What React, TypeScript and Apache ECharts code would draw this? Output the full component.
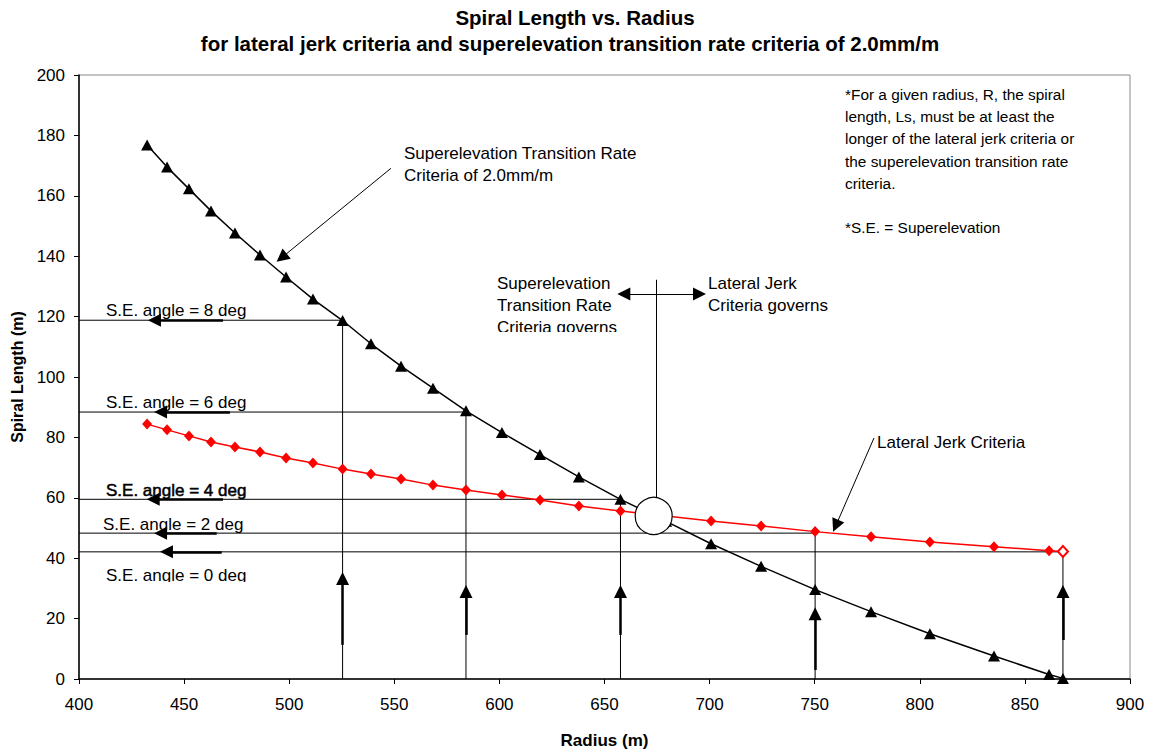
import React, { useEffect, useRef } from "react";
import * as echarts from "echarts";

// ---- data ----
const radius = [432.4, 441.9, 452.3, 462.8, 474.2, 486.1, 498.5, 511.3, 525.4, 538.9, 553.2, 568.4, 584.1, 601.2, 619.3, 637.8, 657.6, 679.3, 700.7, 724.5, 750.2, 776.8, 804.8, 835.3, 861.5, 868.1];
const seTransitionLs = [176.8, 169.5, 162.3, 155.0, 147.7, 140.4, 133.1, 125.8, 118.7, 111.0, 103.6, 96.3, 88.8, 81.6, 74.3, 66.9, 59.5, 52.2, 44.8, 37.3, 29.6, 22.3, 15.0, 7.6, 1.5, 0.2];
const lateralJerkLs = [84.4, 82.5, 80.5, 78.5, 76.8, 75.2, 73.2, 71.5, 69.5, 67.9, 66.2, 64.2, 62.6, 60.9, 59.3, 57.3, 55.6, 54.0, 52.3, 50.7, 48.8, 47.1, 45.4, 43.8, 42.5, 42.2];

// S.E. angle guides: angle, spiral length level, radius
const seAngles = ["8", "6", "4", "2", "0"];
const seLevels = [118.8, 88.4, 59.5, 48.3, 42.1];
const seRadii = [525.4, 584.1, 657.6, 750.2, 868.1];
// horizontal arrows (arrowhead centre x, tail x) on each level
const hArrowHead = [435.9, 438.8, 435.3, 438.8, 441.6];
const hArrowTail = [468.5, 471.8, 468.5, 465.5, 467.9];
// vertical arrows (arrowhead centre y, tail y) on each radius
const vArrowHead = [33.3, 29.0, 29.0, 21.6, 29.0];
const vArrowTail = [11.3, 14.6, 14.6, 3.0, 12.9];

// crossover marker
const crossover = [673.4, 54.0];
const divideX = 674.4;
const divideTop = 132.2;
const divideArrowY = 127.5;
const divideArrowL = 659.2;
const divideArrowR = 695.2;

const xMin = 400, xMax = 900, xStep = 50;
const yMin = 0, yMax = 200, yStep = 20;

const FONT = '"Liberation Sans", Arial, sans-serif';

export default function App() {
  const ref = useRef<HTMLDivElement>(null);
  useEffect(() => {
    if (!ref.current) return;
    const chart = echarts.init(ref.current, undefined, { renderer: "svg" });

    const connectors = seLevels.map((L, i) => ({
      coords: [[xMin, L], [seRadii[i], L], [seRadii[i], 0]],
    }));
    const arrows: any[] = [];
    seLevels.forEach((L, i) => {
      arrows.push({ coords: [[hArrowTail[i], L], [hArrowHead[i], L]], lineStyle: { width: 2.5 } });
      arrows.push({ coords: [[seRadii[i], vArrowTail[i]], [seRadii[i], vArrowHead[i]]], lineStyle: { width: 2.5 } });
    });
    arrows.push({ coords: [[548.4, 169.1], [496.4, 139.5]], lineStyle: { width: 1 } });
    arrows.push({ coords: [[778.2, 79.8], [760.0, 50.7]], lineStyle: { width: 1 } });

    const t = (x: number, y: number, text: string, extra: any = {}) => ({
      type: "text",
      x,
      y,
      silent: true,
      z: 10,
      style: {
        text,
        fill: "#000",
        fontSize: 17,
        fontFamily: FONT,
        textVerticalAlign: "middle",
        verticalAlign: "middle",
        ...extra,
      },
    });
    const top = { textVerticalAlign: "top", verticalAlign: "top", lineHeight: 22.3 };

    const option: any = {
      animation: false,
      backgroundColor: "#fff",
      grid: {
        left: 79, right: 21, top: 75, bottom: 71,
        outerBoundsMode: "none", containLabel: false,
        show: true, borderColor: "#8a8a8a", borderWidth: 1,
      },
      xAxis: {
        type: "value",
        min: xMin,
        max: xMax,
        interval: xStep,
        name: "Radius (m)",
        nameLocation: "middle",
        nameGap: 53,
        nameTextStyle: { fontSize: 17, fontWeight: "bold", color: "#000", fontFamily: FONT },
        axisLine: { show: true, lineStyle: { color: "#000", width: 1.5 } },
        axisTick: { show: true, length: 5, lineStyle: { color: "#000" } },
        axisLabel: { fontSize: 17, color: "#000", margin: 17, fontFamily: FONT },
        splitLine: { show: false },
      },
      yAxis: {
        type: "value",
        min: yMin,
        max: yMax,
        interval: yStep,
        name: "Spiral Length (m)",
        nameLocation: "middle",
        nameGap: 53,
        nameTextStyle: { fontSize: 16, fontWeight: "bold", color: "#000", fontFamily: FONT },
        axisLine: { show: true, lineStyle: { color: "#000", width: 1.5 } },
        axisTick: { show: true, length: 5, lineStyle: { color: "#000" } },
        axisLabel: { fontSize: 17, color: "#000", margin: 14, fontFamily: FONT },
        splitLine: { show: false },
      },
      series: [
        {
          type: "lines",
          coordinateSystem: "cartesian2d",
          polyline: true,
          silent: true,
          lineStyle: { color: "#000", width: 1, opacity: 1 },
          data: connectors,
          z: 2,
        },
        {
          type: "lines",
          coordinateSystem: "cartesian2d",
          silent: true,
          symbol: ["none", "triangle"],
          symbolSize: 13,
          lineStyle: { color: "#000", opacity: 1 },
          data: arrows,
          z: 3,
        },
        {
          type: "lines",
          coordinateSystem: "cartesian2d",
          silent: true,
          symbol: ["triangle", "triangle"],
          symbolSize: 13,
          lineStyle: { color: "#000", width: 1, opacity: 1 },
          data: [{ coords: [[divideArrowL, divideArrowY], [divideArrowR, divideArrowY]] }],
          z: 3,
        },
        {
          type: "lines",
          coordinateSystem: "cartesian2d",
          silent: true,
          lineStyle: { color: "#000", width: 1, opacity: 1 },
          data: [{ coords: [[divideX, divideTop], [divideX, crossover[1]]] }],
          z: 3,
        },
        {
          name: "Superelevation Transition Rate Criteria",
          type: "line",
          data: radius.map((r, i) => [r, seTransitionLs[i]]),
          symbol: "triangle",
          symbolSize: [12, 11],
          showAllSymbol: true,
          lineStyle: { color: "#000", width: 1.5 },
          itemStyle: { color: "#000" },
          z: 4,
        },
        {
          name: "Lateral Jerk Criteria",
          type: "line",
          data: radius.map((r, i) =>
            i === radius.length - 1
              ? { value: [r, lateralJerkLs[i]], itemStyle: { color: "#fff", borderColor: "#ff0000", borderWidth: 2 } }
              : [r, lateralJerkLs[i]]
          ),
          symbol: "diamond",
          symbolSize: [10, 11],
          showAllSymbol: true,
          lineStyle: { color: "#ff0000", width: 1.5 },
          itemStyle: { color: "#ff0000" },
          z: 5,
        },
        {
          type: "scatter",
          data: [crossover],
          symbol: "circle",
          symbolSize: 37,
          silent: true,
          itemStyle: { color: "#fff", borderColor: "#000", borderWidth: 1.2, opacity: 1 },
          z: 8,
        },
      ],
      graphic: [
        t(575, 17, "Spiral Length vs. Radius", { fontWeight: "bold", fontSize: 20.5, textAlign: "center", align: "center" }),
        t(570, 43, "for lateral jerk criteria and superelevation transition rate criteria of 2.0mm/m", { fontWeight: "bold", fontSize: 20.5, textAlign: "center", align: "center" }),
        ...seAngles.map((a, i) =>
          t([106, 106, 106, 103, 106][i], [310, 402, 490, 524, 575][i], `S.E. angle = ${a} deg`, i === 2 ? { stroke: "#000", lineWidth: 0.5 } : {})
        ),
        t(404, 142, "Superelevation Transition Rate\nCriteria of 2.0mm/m", top),
        t(497, 272, "Superelevation\nTransition Rate\nCriteria governs", top),
        t(708, 272, "Lateral Jerk\nCriteria governs", top),
        t(877, 442, "Lateral Jerk Criteria"),
        t(845, 83,
          "*For a given radius, R, the spiral\nlength, Ls, must be at least the\nlonger of the lateral jerk criteria or\nthe superelevation transition rate\ncriteria.\n\n*S.E. = Superelevation",
          { ...top, fontSize: 15.4 }),
        { type: "rect", z: 20, silent: true, shape: { x: 494, y: 332, width: 130, height: 9 }, style: { fill: "#fff" } },
        { type: "rect", z: 20, silent: true, shape: { x: 100, y: 582, width: 165, height: 8 }, style: { fill: "#fff" } },
      ],
    };
    chart.setOption(option);
    return () => chart.dispose();
  }, []);
  return <div ref={ref} style={{ position: "absolute", left: 0, top: 0, width: 1151, height: 750 }} />;
}
